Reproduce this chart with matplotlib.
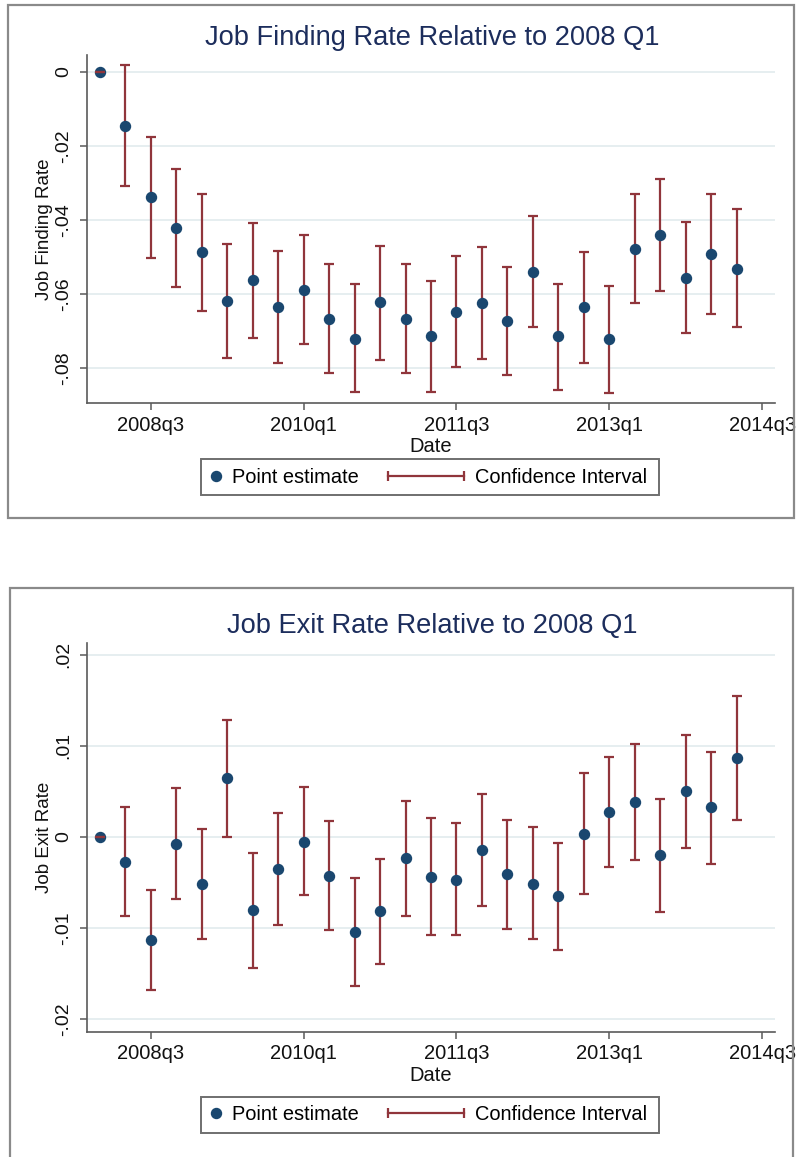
import numpy as np
import matplotlib
matplotlib.use("Agg")
import matplotlib.pyplot as plt
from matplotlib.lines import Line2D
from matplotlib.patches import Rectangle
from matplotlib.legend_handler import HandlerLine2D

plt.rcParams['font.family'] = ['Liberation Sans', 'DejaVu Sans']

# quarters 2008q1 .. 2014q2
quarters = ['2008q1', '2008q2', '2008q3', '2008q4', '2009q1', '2009q2', '2009q3', '2009q4',
            '2010q1', '2010q2', '2010q3', '2010q4', '2011q1', '2011q2', '2011q3', '2011q4',
            '2012q1', '2012q2', '2012q3', '2012q4', '2013q1', '2013q2', '2013q3', '2013q4',
            '2014q1', '2014q2']
tick_labels = ['2008q3', '2010q1', '2011q3', '2013q1', '2014q3']

# job finding rate (relative to 2008q1)
jf_est = [0.0, -0.0146, -0.0338, -0.0422, -0.0486, -0.0619, -0.0563, -0.0636,
          -0.0589, -0.0668, -0.0720, -0.0622, -0.0666, -0.0713, -0.0647, -0.0623,
          -0.0673, -0.0540, -0.0714, -0.0636, -0.0722, -0.0477, -0.0441, -0.0556,
          -0.0492, -0.0531]
jf_hi = [0.0, 0.0019, -0.0176, -0.0262, -0.0330, -0.0465, -0.0408, -0.0483,
         -0.0441, -0.0520, -0.0574, -0.0469, -0.0519, -0.0564, -0.0496, -0.0472,
         -0.0528, -0.0389, -0.0572, -0.0486, -0.0578, -0.0329, -0.0288, -0.0406,
         -0.0329, -0.0370]
jf_lo = [0.0, -0.0308, -0.0503, -0.0581, -0.0646, -0.0773, -0.0718, -0.0787,
         -0.0734, -0.0814, -0.0864, -0.0777, -0.0813, -0.0864, -0.0798, -0.0775,
         -0.0818, -0.0690, -0.0859, -0.0786, -0.0866, -0.0625, -0.0592, -0.0705,
         -0.0653, -0.0690]

# job exit rate (relative to 2008q1)
je_est = [0.0, -0.00275, -0.01135, -0.0008, -0.0052, 0.00645, -0.00805, -0.00355,
          -0.00055, -0.00429, -0.01044, -0.0082, -0.00234, -0.0044, -0.00472, -0.00146,
          -0.0041, -0.00516, -0.00655, 0.00033, 0.00275, 0.00385, -0.00205, 0.00502,
          0.00323, 0.00861]
je_hi = [0.0, 0.00326, -0.00586, 0.00539, 0.00085, 0.01282, -0.00176, 0.00257,
         0.0055, 0.00176, -0.00454, -0.00242, 0.00396, 0.00205, 0.0015, 0.00469,
         0.00187, 0.00103, -0.00069, 0.00696, 0.00879, 0.01019, 0.00414, 0.01118,
         0.00934, 0.01546]
je_lo = [0.0, -0.00871, -0.01681, -0.00688, -0.01128, 0.0, -0.01443, -0.00967,
         -0.0064, -0.01025, -0.01637, -0.01396, -0.00871, -0.01077, -0.01084, -0.00765,
         -0.01014, -0.01128, -0.01242, -0.00626, -0.00337, -0.00253, -0.00828, -0.00121,
         -0.00297, 0.00184]

jf_ticks = [0, -0.02, -0.04, -0.06, -0.08]
jf_tick_labels = ['0', '-.02', '-.04', '-.06', '-.08']
je_ticks = [0.02, 0.01, 0, -0.01, -0.02]
je_tick_labels = ['.02', '.01', '0', '-.01', '-.02']

NAVY = '#1a476f'
MAROON = '#90353b'
GRID = '#e6eef0'
AXC = '#5a5a5a'

W, H = 797, 1157
fig = plt.figure(figsize=(W / 100, H / 100), dpi=100)


def px(x0, y0, x1, y1):
    # pixel box -> figure fraction [left, bottom, width, height]
    return [x0 / W, 1 - y1 / H, (x1 - x0) / W, (y1 - y0) / H]


def panel(box, title, title_y, est, lo, hi, yticks, ylabels, ylim, ylabel, legend_y):
    ax = fig.add_axes(px(*box))
    x = np.arange(len(quarters))
    est = np.array(est)
    lo = np.array(lo)
    hi = np.array(hi)
    ebar = dict(fmt='none', ecolor=MAROON, elinewidth=1.6, capsize=3.8, capthick=1.6)
    wide = hi > lo
    ax.errorbar(x[wide], est[wide], yerr=[est[wide] - lo[wide], hi[wide] - est[wide]],
                zorder=2, **ebar)
    ax.plot(x, est, 'o', color=NAVY, markersize=7.2, zorder=3)
    # zero-width interval of the base quarter sits on top of its dot
    ax.errorbar(x[~wide], est[~wide], yerr=[est[~wide] - lo[~wide], hi[~wide] - est[~wide]],
                zorder=4, **ebar)

    ax.set_xlim(-0.5, 26.5)
    ax.set_ylim(*ylim)
    ax.set_xticks([quarters.index('2008q3'), 8, 14, 20, 26])
    ax.set_xticklabels(tick_labels)
    ax.set_yticks(yticks)
    ax.set_yticklabels(ylabels, rotation=90, va='center')
    ax.grid(axis='y', color=GRID, linewidth=1.4)
    ax.set_axisbelow(True)
    for s in ['top', 'right']:
        ax.spines[s].set_visible(False)
    for s in ['left', 'bottom']:
        ax.spines[s].set_color(AXC)
        ax.spines[s].set_linewidth(1.2)
    ax.tick_params(axis='both', colors=AXC, labelcolor='#111111',
                   length=5, width=1.1)
    ax.tick_params(axis='x', pad=4.0, labelsize=14.5)
    ax.tick_params(axis='y', pad=5.5, labelsize=14)
    ax.set_xlabel('Date', fontsize=14.5, color='#111111')
    box_h = box[3] - box[1]
    ax.xaxis.set_label_coords(0.5, -34 / box_h)
    ax.xaxis.label.set_va('top')
    ax.set_ylabel(ylabel, fontsize=13.5, color='#111111')
    ax.yaxis.set_label_coords(-0.049, 0.5)

    fig.text(432 / W, 1 - title_y / H, title, ha='center', va='baseline',
             fontsize=19.6, color='#1c2d5c')

    # legend: two entries inside one box
    pt = Line2D([], [], marker='o', linestyle='none', color=NAVY, markersize=7.2)
    ci = Line2D([0, 1], [0, 0], color=MAROON, linewidth=1.6, marker='|',
                markersize=7, markeredgewidth=1.6)
    fy = 1 - legend_y / H
    fs = 14.4
    fig.legend([pt], ['Point estimate'], loc='center left',
               bbox_to_anchor=(208 / W, fy), frameon=False, fontsize=fs,
               handlelength=0.75, handletextpad=0.45, borderpad=0, borderaxespad=0)
    fig.legend([ci], ['Confidence Interval'], loc='center left',
               bbox_to_anchor=(388 / W, fy), frameon=False, fontsize=fs,
               handlelength=76 / (fs * 100 / 72), handletextpad=0.55, borderpad=0,
               borderaxespad=0,
               handler_map={ci: HandlerLine2D(numpoints=2, marker_pad=0)})
    fig.add_artist(Rectangle((201 / W, fy - 18 / H), 458 / W, 36 / H,
                             transform=fig.transFigure, fill=False,
                             edgecolor='#6f6f6f', linewidth=1.4))
    return ax


# outer frames of the two graphs
fig.add_artist(Rectangle((8 / W, 1 - 518 / H), 786 / W, 513 / H, transform=fig.transFigure,
                         fill=False, edgecolor='#8a8a8a', linewidth=1.6))
fig.add_artist(Rectangle((10 / W, 1 - 1170 / H), 783 / W, 582 / H, transform=fig.transFigure,
                         fill=False, edgecolor='#8a8a8a', linewidth=1.6))

panel((87, 55, 775, 403.3), 'Job Finding Rate Relative to 2008 Q1', 45,
      jf_est, jf_lo, jf_hi, jf_ticks, jf_tick_labels, (-0.0895, 0.0046),
      'Job Finding Rate', 477.5)
panel((87, 643, 775, 1031.7), 'Job Exit Rate Relative to 2008 Q1', 633,
      je_est, je_lo, je_hi, je_ticks, je_tick_labels, (-0.02143, 0.0213),
      'Job Exit Rate', 1114.5)

fig.savefig('out.png', dpi=100)
